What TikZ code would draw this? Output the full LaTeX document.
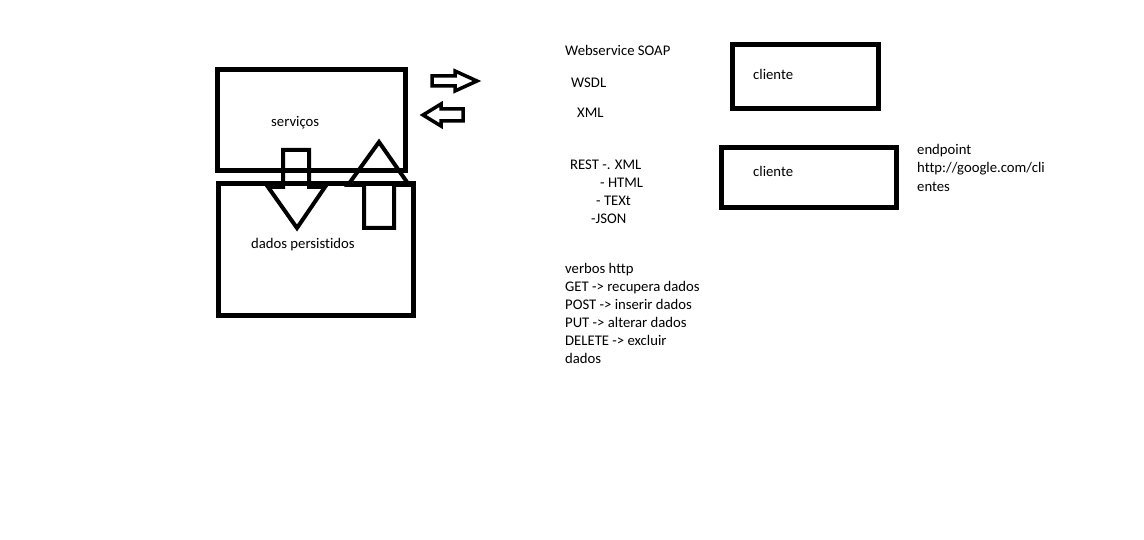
\documentclass[tikz,border=0pt]{standalone}
\usepackage{fontspec}
\setmainfont{Carlito}[Ligatures=NoCommon]
\usepackage{tikz}

\begin{document}
\begin{tikzpicture}[x=1pt, y=-1pt, line join=miter,
	box/.style={line width=5pt},
	blockarrow/.style={line width=4pt},
	smallarrow/.style={line width=3.5pt},
	txt/.style={anchor=west, inner sep=0pt, yshift=-1.5pt, font=\fontsize{14.7}{18}\selectfont}]
	\useasboundingbox[fill=white] (0,0) rectangle (1144,540);
	%
	% boxes
	\draw[box] (217,70) rectangle (405,171); %servicos
	\draw[box] (218,184) rectangle (413,316); %dados
	\draw[box] (732,45) rectangle (878,109); %cliente 1
	\draw[box] (721,148) rectangle (896,208); %cliente 2
	%
	% block arrows between the boxes
	\draw[blockarrow] (283,150) -- (309,150) -- (309,187) -- (325,187) -- (297,228) -- (268,187) -- (283,187) -- cycle;
	\draw[blockarrow] (379,142) -- (409,185) -- (394,185) -- (394,228) -- (364,228) -- (364,185) -- (348,185) -- cycle;
	%
	% small arrows
	\draw[smallarrow] (432,76) -- (455,76) -- (455,71) -- (477,81) -- (455,91) -- (455,86) -- (432,86) -- cycle;
	\draw[smallarrow] (423,115) -- (441,104) -- (441,109) -- (463,109) -- (463,121) -- (441,121) -- (441,126) -- cycle;
	%
	%
	% nodes -- text
	\node[txt] (servicos) at (271,121) {serviços};
	\node[txt] (dados) at (251,243) {dados persistidos};
	\node[txt] (cli1) at (753,73) {cliente};
	\node[txt] (cli2) at (753,170) {cliente};
	%
	\node[txt] (soap) at (565,49) {Webservice SOAP};
	\node[txt] (wsdl) at (571,81) {WSDL};
	\node[txt] (xml) at (577,111) {XML};
	%
	\node[txt] (rest) at (570,163) {REST -. XML};
	\node[txt] (html) at (600,181) {- HTML};
	\node[txt] (text) at (596,199) {- TEXt};
	\node[txt] (json) at (591,217) {-JSON};
	%
	\node[txt] (end1) at (917,149) {endpoint};
	\node[txt] (end2) at (917,167) {http://google.com/cli};
	\node[txt] (end3) at (917,185) {entes};
	%
	\node[txt] (verbos) at (565,268) {verbos http};
	\node[txt] (get) at (565,286) {GET -> recupera dados};
	\node[txt] (post) at (565,303) {POST -> inserir dados};
	\node[txt] (put) at (565,321) {PUT -> alterar dados};
	\node[txt] (delete) at (565,339) {DELETE -> excluir};
	\node[txt] (dados2) at (565,357) {dados};
\end{tikzpicture}
\end{document}
